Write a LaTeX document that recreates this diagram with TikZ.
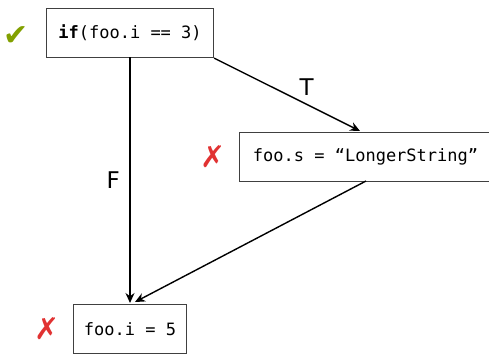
\documentclass[tikz,border=0pt]{standalone}
\usepackage{fontspec}
\setmainfont{DejaVu Sans}
\setmonofont{DejaVu Sans Mono}
\newfontfamily\symfont{DejaVu Sans}
\usetikzlibrary{arrows.meta}
\definecolor{okgreen}{RGB}{130,160,0}
\definecolor{badred}{RGB}{225,50,50}
\begin{document}
\begin{tikzpicture}[x=1pt,y=-1pt,
  codebox/.style={draw=black!75,line width=1.1pt,inner sep=0pt,minimum height=49pt,font=\ttfamily\fontsize{17}{19}\selectfont,anchor=north west},
  flow/.style={draw=black,line width=1.4pt,-{Stealth[length=10pt,width=9pt]}},
  lbl/.style={font=\fontsize{23}{25}\selectfont},
  tickmark/.style={font=\symfont\fontsize{30}{32}\selectfont}]
\useasboundingbox (0,0) rectangle (489,354);
\node[codebox,minimum width=167pt] (c) at (46,8) {\textbf{if}(foo.i == 3)};
\node[codebox,minimum width=252pt] (s) at (239,132) {foo.s = “LongerString”};
\node[codebox,minimum width=113pt] (e) at (73,304) {foo.i = 5};
\node[tickmark,text=okgreen] (m1) at (16,36) {✔};
\node[tickmark,text=badred] (m2) at (213,157) {✗};
\node[tickmark,text=badred] (m3) at (47,329) {✗};
\coordinate (cb) at (130,57);
\coordinate (et) at (130,303);
\coordinate (sb) at (366,181);
\coordinate (st) at (360,131);
\coordinate (et2) at (135,302);
\draw[flow] (cb) -- (et) node[lbl,pos=0.5,left=6pt] (f) {F};
\draw[flow] (c.south east) -- (st) node[lbl,pos=0.6,above right=0pt,xshift=-6pt,yshift=2pt] (t) {T};
\draw[flow] (sb) -- (et2);
\end{tikzpicture}
\end{document}
